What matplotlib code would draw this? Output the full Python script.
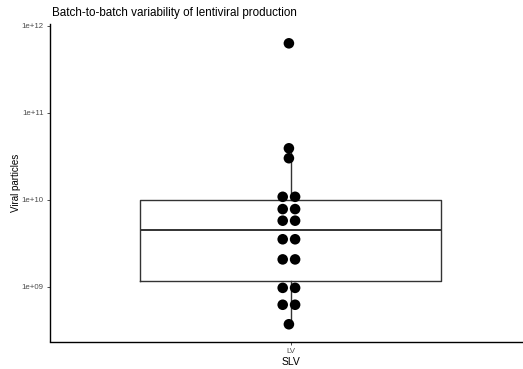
import numpy as np
import matplotlib
matplotlib.use("Agg")
import matplotlib.pyplot as plt

# Lentiviral production batches (viral particles per batch)
group = "LV"
particles = [6.28e11, 3.9e10, 3.0e10,
             1.08e10, 1.08e10, 7.8e9, 7.8e9, 5.74e9, 5.74e9,
             3.51e9, 3.51e9, 2.06e9, 2.06e9,
             9.7e8, 9.7e8, 6.2e8, 6.2e8, 3.7e8]
y_ticks = [1e9, 1e10, 1e11, 1e12]
y_tick_labels = ["1e+09", "1e+10", "1e+11", "1e+12"]

plt.rcParams['font.family'] = ['Liberation Sans', 'DejaVu Sans']

fig = plt.figure(figsize=(5.23, 3.69), dpi=100)
W, H = 523, 369
ax = fig.add_axes([50 / W, (H - 341.5) / H, (523 - 50) / W, (341.5 - 24) / H])

# Box statistics computed on the log10 scale
logv = np.log10(np.array(particles))
q1, med, q3 = np.percentile(logv, [25, 50, 75])
iqr = q3 - q1
lo = logv[logv >= q1 - 1.5 * iqr].min()
hi = logv[logv <= q3 + 1.5 * iqr].max()
stats = [dict(med=10 ** med, q1=10 ** q1, q3=10 ** q3,
              whislo=10 ** lo, whishi=10 ** hi, fliers=[])]
box_col = "#333333"
ax.bxp(stats, positions=[0], widths=0.75, showcaps=False,
       boxprops=dict(color=box_col, linewidth=1.0),
       whiskerprops=dict(color=box_col, linewidth=1.0),
       medianprops=dict(color=box_col, linewidth=1.4),
       zorder=2)

# Dot plot: identical values stacked side by side
vals, counts = np.unique(particles, return_counts=True)
xs, ys = [], []
for v, c in zip(vals, counts):
    offs = (np.arange(c) - (c - 1) / 2) * 0.031 - 0.004
    xs.extend(offs)
    ys.extend([v] * c)
ax.scatter(xs, ys, s=58, color="black", edgecolors="none", zorder=3)

ax.set_yscale("log")
ax.set_ylim(10 ** 8.37, 10 ** 12.02)
ax.set_xlim(-0.601, 0.581)
ax.set_yticks(y_ticks)
ax.set_yticklabels(y_tick_labels)
ax.minorticks_off()
ax.set_xticks([0])
ax.set_xticklabels([group])

for s in ["top", "right"]:
    ax.spines[s].set_visible(False)
for s in ["left", "bottom"]:
    ax.spines[s].set_linewidth(1.0)
ax.tick_params(axis="both", length=2.5, width=0.6, color="#333333",
               labelsize=5.7, labelcolor="#4D4D4D", pad=2)

ax.set_ylabel("Viral particles", fontsize=7, va="center")
ax.yaxis.set_label_coords((16 - 50) / (523 - 50), 0.5)
ax.set_xlabel("SLV", fontsize=7.5)
ax.xaxis.set_label_coords((290.5 - 50) / (523 - 50), -0.05)
ax.xaxis.label.set_va("top")
ax.set_title("Batch-to-batch variability of lentiviral production",
             fontsize=8.4, loc="left", pad=6, x=0.004)

fig.savefig("out.png", dpi=100)
